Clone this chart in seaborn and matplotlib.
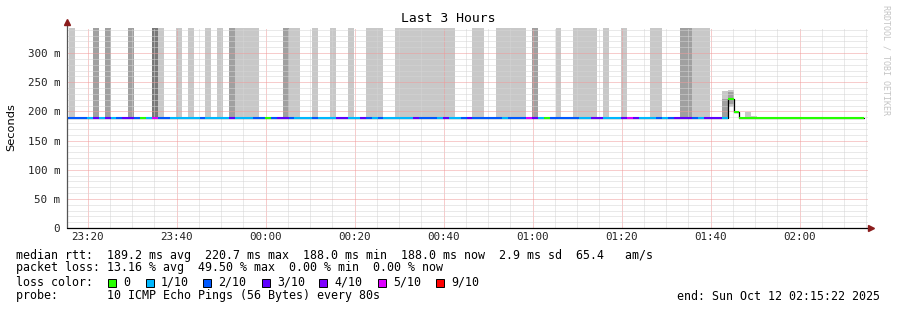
import numpy as np
import pandas as pd
import matplotlib
matplotlib.use("Agg")
import matplotlib.pyplot as plt
from matplotlib.patches import Rectangle
from matplotlib.ticker import MultipleLocator, FixedLocator, FixedFormatter
import seaborn as sns

# ---------------- data ----------------
STEP_MIN = 80 / 60.0            # one probe round = 80 s
FIRST_STEP_START = 14.483       # minutes after 23:00 of the first step
X_START, X_END = 15.367, 195.367  # 23:15:22 .. 02:15:22 (minutes after 23:00)
X_TICK_LABELS = ["23:20", "23:40", "00:00", "00:20", "00:40", "01:00", "01:20", "01:40", "02:00"]
Y_TICKS = [0, 50, 100, 150, 200, 250, 300]
Y_TICK_LABELS = ["0", "50 m", "100 m", "150 m", "200 m", "250 m", "300 m"]
Y_MAX = 343

# loss per step as runs: (loss in tenths, number of steps)
LOSS_RUNS = [(2, 4), (1, 1), (3, 1), (1, 1), (3, 1), (1, 1), (2, 1), (3, 2), (2, 1), (0, 1),
             (1, 1), (5, 1), (2, 2), (1, 5), (2, 1), (1, 4), (3, 1), (1, 3), (2, 2), (0, 1),
             (2, 1), (3, 2), (2, 1), (1, 3), (2, 1), (1, 3), (3, 2), (1, 2), (3, 1), (2, 1),
             (1, 1), (2, 1), (1, 5), (3, 1), (2, 3), (1, 1), (3, 1), (1, 2), (2, 1), (3, 1),
             (2, 5), (1, 1), (2, 3), (5, 1), (3, 1), (1, 1), (0, 1), (2, 5), (1, 2), (3, 2),
             (1, 3), (3, 1), (5, 1), (3, 1), (1, 3), (2, 1), (1, 1), (2, 1), (3, 3), (2, 1),
             (1, 1), (3, 3), (1, 1), (0, 23)]
# median rtt (ms) per step as runs: (value, number of steps)
MEDIAN_RUNS = [(189.0, 112), (220.7, 1), (199.0, 1), (189.0, 6), (188.0, 15)]

# smoke reaching above the chart: (first step, number of steps, shade 1..3)
SMOKE_FULL = [(1, 1, 1), (5, 1, 2), (7, 1, 2), (11, 1, 2), (15, 1, 3), (16, 1, 1), (19, 1, 1),
              (21, 1, 1), (24, 1, 1), (26, 1, 1), (28, 1, 2), (29, 4, 1), (37, 1, 2), (38, 2, 1),
              (42, 1, 1), (45, 1, 1), (48, 1, 1), (51, 3, 1), (56, 10, 1), (69, 2, 1), (73, 5, 1),
              (79, 1, 2), (83, 1, 1), (86, 4, 1), (91, 1, 1), (94, 1, 1), (99, 2, 1), (104, 2, 2),
              (106, 3, 1)]
# smoke within the chart: (step, low ms, high ms, shade)
SMOKE_PART = [(111, 189, 235, 1), (111, 189, 222, 2), (112, 208, 237, 1), (112, 212, 233, 2),
              (115, 189, 199, 1), (116, 189, 192, 1)]

LOSS_LEVELS = [0, 1, 2, 3, 4, 5, 9]
LOSS_LABELS = ["0", "1/10", "2/10", "3/10", "4/10", "5/10", "9/10"]
LOSS_COLORS = ["#26ff00", "#00b8ff", "#0059ff", "#5e00ff", "#7e00ff", "#dd00ff", "#ff0000"]
SHADE_COLORS = {1: "#c8c8c8", 2: "#a0a0a0", 3: "#787878"}

STATS_LINE1 = "median rtt:  189.2 ms avg  220.7 ms max  188.0 ms min  188.0 ms now  2.9 ms sd  65.4   am/s"
STATS_LINE2 = "packet loss: 13.16 % avg  49.50 % max  0.00 % min  0.00 % now"
PROBE_LINE = "probe:       10 ICMP Echo Pings (56 Bytes) every 80s"
END_LINE = "end: Sun Oct 12 02:15:22 2025"

# ---------------- build frame ----------------
loss = np.repeat([a for a, n in LOSS_RUNS], [n for a, n in LOSS_RUNS])
median = np.repeat([a for a, n in MEDIAN_RUNS], [n for a, n in MEDIAN_RUNS])
n_steps = len(median)
assert len(loss) == n_steps
start = FIRST_STEP_START + STEP_MIN * np.arange(n_steps)
df = pd.DataFrame({"t": start, "median": median, "loss": loss})
color_of = dict(zip(LOSS_LEVELS, LOSS_COLORS))

# ---------------- figure ----------------
sns.set_theme(style="white")
plt.rcParams["font.family"] = ["DejaVu Sans Mono", "DejaVu Sans"]

W, H = 897, 310
L, R, T, B = 67, 868, 28, 228
fig = plt.figure(figsize=(W / 100, H / 100), dpi=100)
ax = fig.add_axes([L / W, 1 - B / H, (R - L) / W, (B - T) / H])
ax.set_facecolor("white")

# smoke
for first, n, shade in SMOKE_FULL:
    sub = df.iloc[first:first + n]
    ax.bar(sub["t"], Y_MAX + 50 - sub["median"], bottom=sub["median"], width=STEP_MIN,
           align="edge", color=SHADE_COLORS[shade], linewidth=0, zorder=1)
for step, lo, hi, shade in SMOKE_PART:
    ax.bar([df["t"].iloc[step]], [hi - lo], bottom=[lo], width=STEP_MIN, align="edge",
           color=SHADE_COLORS[shade], linewidth=0, zorder=1)

# black stepped median (shows the risers)
step_df = pd.concat([df[["t", "median"]],
                     pd.DataFrame({"t": [df["t"].iloc[-1] + STEP_MIN], "median": [df["median"].iloc[-1]]})])
sns.lineplot(data=step_df, x="t", y="median", drawstyle="steps-post", color="black",
             linewidth=0.9, ax=ax, zorder=3, estimator=None)
# colored median segments by loss
ax.hlines(df["median"], df["t"], df["t"] + STEP_MIN, colors=[color_of[v] for v in df["loss"]],
          linewidth=1.5, zorder=4)

# axes ranges / ticks
ax.set_xlim(X_START, X_END)
ax.set_ylim(0, Y_MAX)
xt = [(int(s[:2]) * 60 + int(s[3:]) - 23 * 60) % (24 * 60) for s in X_TICK_LABELS]
ax.xaxis.set_major_locator(FixedLocator(xt))
ax.xaxis.set_major_formatter(FixedFormatter(X_TICK_LABELS))
ax.xaxis.set_minor_locator(MultipleLocator(5))
ax.yaxis.set_major_locator(FixedLocator(Y_TICKS))
ax.yaxis.set_major_formatter(FixedFormatter(Y_TICK_LABELS))
ax.yaxis.set_minor_locator(MultipleLocator(10))
ax.tick_params(axis="both", which="both", length=0, labelsize=7.8, colors="#222222")
ax.tick_params(axis="y", pad=5)
ax.tick_params(axis="x", pad=3)
ax.set_xlabel("")
ax.set_ylabel("")

ax.set_axisbelow(False)
ax.grid(which="minor", color="#d4d4d4", linestyle=(0, (1, 1)), linewidth=0.72)
ax.grid(which="major", color="#f09a9a", linestyle=(0, (1, 1)), linewidth=0.72)
for s in ax.spines.values():
    s.set_visible(False)

# axis lines and arrows
ax.plot([0, 0], [0, 1.02], transform=ax.transAxes, color="#555555", lw=0.9, clip_on=False, zorder=5)
ax.plot([0, 1.002], [0, 0], transform=ax.transAxes, color="black", lw=0.9, clip_on=False, zorder=5)
ax.plot([0], [1.03], marker="^", ms=4, color="#8b1c1c", transform=ax.transAxes, clip_on=False, zorder=6)
ax.plot([1.004], [0], marker=">", ms=4, color="#8b1c1c", transform=ax.transAxes, clip_on=False, zorder=6)

# texts
def ftext(x, y, s, **kw):
    fig.text(x / W, 1 - y / H, s, **kw)

ftext(448.5, 19, "Last 3 Hours", ha="center", va="center", fontsize=9.4, color="black")
ftext(11, 127, "Seconds", rotation=90, ha="center", va="center", fontsize=8.2,
      family=["DejaVu Sans"], color="black")
ftext(886, 60, "RRDTOOL / TOBI OETIKER", rotation=270, ha="center", va="center",
      fontsize=6.0, color="#c4c4c4")

LEG_FS = 8.35
ftext(16, 255, STATS_LINE1, ha="left", va="center", fontsize=LEG_FS, color="black")
ftext(16, 268, STATS_LINE2, ha="left", va="center", fontsize=LEG_FS, color="black")
ftext(16, 282, "loss color:", ha="left", va="center", fontsize=LEG_FS, color="black")
box_x = [108, 146, 203, 262, 319, 378, 436]
for bx, lab, col in zip(box_x, LOSS_LABELS, LOSS_COLORS):
    fig.patches.append(Rectangle((bx / W, 1 - 286.5 / H), 8 / W, 8 / H, transform=fig.transFigure,
                                 facecolor=col, edgecolor="black", linewidth=0.7))
    ftext(bx + 15, 282, lab, ha="left", va="center", fontsize=LEG_FS, color="black")
ftext(16, 296, PROBE_LINE, ha="left", va="center", fontsize=LEG_FS, color="black")
ftext(880, 296, END_LINE, ha="right", va="center", fontsize=LEG_FS, color="black")

fig.savefig("out.png", dpi=100, facecolor="white")
